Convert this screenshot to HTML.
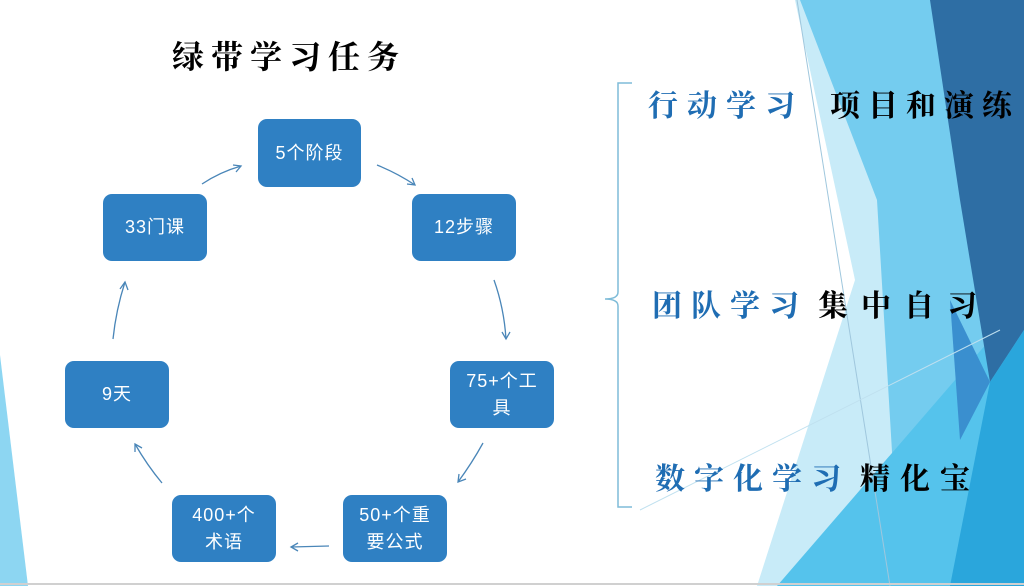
<!DOCTYPE html>
<html><head><meta charset="utf-8"><style>
html,body{margin:0;padding:0;}
body{width:1024px;height:586px;position:relative;overflow:hidden;background:#fff;font-family:"Liberation Sans","Noto Sans CJK SC",sans-serif;}
svg{position:absolute;left:0;top:0;}
.box{position:absolute;background:#2f80c3;border-radius:9px;color:#fff;font-size:18px;display:flex;align-items:center;justify-content:center;text-align:center;line-height:27px;letter-spacing:1px;box-sizing:border-box;white-space:nowrap;}
.t{position:absolute;font-weight:bold;font-size:30px;letter-spacing:9px;white-space:nowrap;font-family:"Liberation Serif","Noto Serif CJK SC",serif;}
.b{color:#1f6db3;}
</style></head><body>
<svg width="1024" height="586" viewBox="0 0 1024 586">
<polygon points="795,0 1024,0 1024,586 757,586 855,280" fill="#c8ebf8"/>
<polygon points="800,0 1024,0 1024,586 900,586 877,200" fill="#74ccef"/>
<polygon points="777,586 1013,313 1024,313 1024,586" fill="#55c3ec"/>
<polygon points="930,0 1024,0 1024,330 990,382 960,200" fill="#2e6ea4"/>
<polygon points="990,382 1024,330 1024,586 950,586" fill="#2aa6dc"/>
<polygon points="950,300 990,382 960,440" fill="#3a8fcf"/>
<polygon points="0,355 28,586 0,586" fill="#8dd6f2"/>
<line x1="797" y1="0" x2="890" y2="586" stroke="#9fc7dd" stroke-width="1"/>
<line x1="640" y1="510" x2="1000" y2="330" stroke="#bfe0ef" stroke-width="1"/>
<line x1="0" y1="584" x2="1024" y2="584" stroke="#d0d0d0" stroke-width="2"/>
<path d="M632,83 L618,83 L618,292 Q618,299 605,299 Q618,299 618,306 L618,507 L632,507" fill="none" stroke="#7fbcd8" stroke-width="1.5"/>
<g fill="none" stroke="#4a86b8" stroke-width="1.3">
<path d="M202,184 Q220,172 241,166"/><path d="M233,165 L241,166 L236,172"/>
<path d="M377,165 Q397,173 415,185"/><path d="M407,184 L415,185 L412,178"/>
<path d="M494,280 Q504,308 506,339"/><path d="M502,332 L506,339 L510,332"/>
<path d="M483,443 Q472,463 458,482"/><path d="M459,474 L458,482 L466,479"/>
<path d="M329,546 L291,547"/><path d="M298,543 L291,547 L298,551"/>
<path d="M162,483 Q147,465 135,444"/><path d="M135,452 L135,444 L142,448"/>
<path d="M113,339 Q116,310 125,282"/><path d="M120,289 L125,282 L128,290"/>
</g>
</svg>
<div class="t" style="left:172px;top:32px;color:#000;font-size:32px;letter-spacing:7px;">绿带学习任务</div>
<div class="box" style="left:258px;top:119px;width:103px;height:68px;">5个阶段</div>
<div class="box" style="left:103px;top:194px;width:104px;height:67px;">33门课</div>
<div class="box" style="left:412px;top:194px;width:104px;height:67px;">12步骤</div>
<div class="box" style="left:65px;top:361px;width:104px;height:67px;">9天</div>
<div class="box" style="left:450px;top:361px;width:104px;height:67px;">75+个工<br>具</div>
<div class="box" style="left:172px;top:495px;width:104px;height:67px;">400+个<br>术语</div>
<div class="box" style="left:343px;top:495px;width:104px;height:67px;">50+个重<br>要公式</div>
<div class="t b" style="left:648px;top:81px;">行动学习</div>
<div class="t" style="left:830px;top:81px;color:#000;letter-spacing:8px;">项目和演练</div>
<div class="t b" style="left:652px;top:281px;">团队学习</div>
<div class="t" style="left:818px;top:281px;color:#000;letter-spacing:13px;">集中自习</div>
<div class="t b" style="left:655px;top:454px;">数字化学习</div>
<div class="t" style="left:860px;top:454px;color:#000;letter-spacing:10px;">精化宝</div>
</body></html>
